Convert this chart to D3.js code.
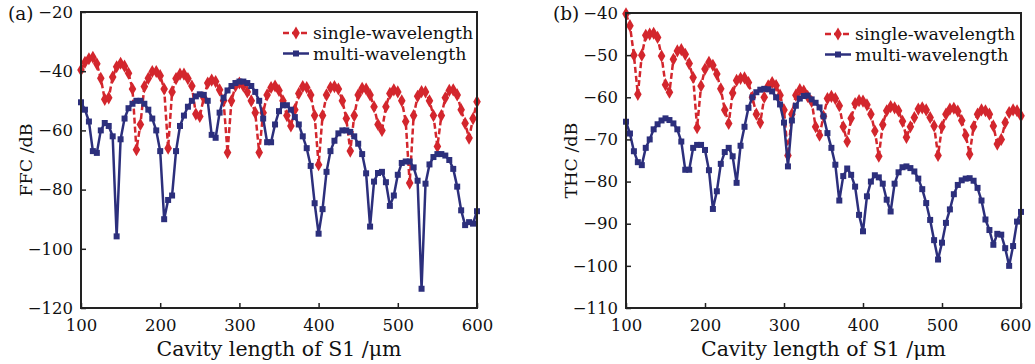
<!DOCTYPE html>
<html>
<head>
<meta charset="utf-8">
<script src="https://cdn.jsdelivr.net/npm/d3@7"></script>
<style>
  body { margin: 0; background: #fff; }
  svg text { font-family: "DejaVu Serif", "Liberation Serif", serif; fill: #111; }
</style>
</head>
<body>
<div id="chart"></div>
<script>
// cavity length of S1 (um), sampled every 5 um
const cavityLength = [
  100, 105, 110, 115, 120, 125, 130, 135, 140, 145, 150, 155, 160, 165, 170, 175, 180, 185, 190, 195,
  200, 205, 210, 215, 220, 225, 230, 235, 240, 245, 250, 255, 260, 265, 270, 275, 280, 285, 290, 295,
  300, 305, 310, 315, 320, 325, 330, 335, 340, 345, 350, 355, 360, 365, 370, 375, 380, 385, 390, 395,
  400, 405, 410, 415, 420, 425, 430, 435, 440, 445, 450, 455, 460, 465, 470, 475, 480, 485, 490, 495,
  500, 505, 510, 515, 520, 525, 530, 535, 540, 545, 550, 555, 560, 565, 570, 575, 580, 585, 590, 595,
  600
];

// (a) FFC /dB
const ffcSingle = [
  -39.6, -37, -35.8, -35.3, -37.5, -42.4, -49.5, -49, -42, -38.5,
  -37.3, -38.3, -40.7, -46, -66.5, -58, -45.2, -42.4, -40.1, -40.1,
  -41.5, -46, -66, -47, -42.5, -41, -41, -42.5, -45, -54.5,
  -55.3, -49, -44, -43, -43.5, -46.3, -50, -67.5, -50, -45,
  -44, -45, -47, -50, -54, -67.5, -54, -48, -45.5, -45,
  -46.5, -50, -55, -58.5, -53, -47.5, -45.2, -45.5, -48, -55,
  -71.6, -55, -48, -45.5, -45.2, -46, -50, -56, -67, -55,
  -48, -45.8, -46, -48, -52, -58, -60, -52, -47.5, -46.3,
  -47, -50, -57, -77.8, -55, -48.5, -46.9, -47, -50, -55,
  -65.4, -55, -49, -46.5, -46.3, -48, -53, -57.6, -62.6, -56,
  -50.3
];
const ffcMulti = [
  -50.5, -53, -57, -67, -67.6, -60, -57.5, -58.5, -62, -95.8,
  -63, -56, -52.5, -51, -50, -50, -51, -53, -56, -60,
  -67, -90, -83.5, -82, -67, -58.5, -55, -52, -50, -48.5,
  -47.8, -48, -50, -61.5, -62.5, -54, -49, -46.5, -45, -44,
  -43.5, -43.5, -44, -45, -47, -50, -56, -64, -64, -58,
  -53.5, -51.5, -51.5, -53, -55.5, -58, -62, -66, -72, -84.6,
  -94.9, -86.6, -74, -67, -63.5, -61, -60, -60, -60.5, -62,
  -64.5, -68, -74.5, -92.5, -77.3, -74.4, -74, -77.5, -85.5, -82,
  -75, -71, -70.5, -70.5, -72.5, -77, -113.5, -78, -71.5, -69,
  -68, -68, -68.5, -70, -73, -79, -87, -92, -91, -91.5,
  -87.3
];

// (b) THC /dB
const thcSingle = [
  -40.2, -43, -50, -59.3, -50, -45.3, -45, -44.8, -45.8, -50.2,
  -57, -58.8, -51, -49, -48.7, -49.8, -52, -55.3, -67.2, -57.3,
  -53.3, -51.7, -52.4, -54.5, -58, -63, -66.2, -59, -56, -55.5,
  -55.4, -56.5, -60, -64, -66, -60, -57.3, -56.5, -57.2, -59.5,
  -63, -73.8, -64, -59.5, -58.2, -58.5, -59.8, -61, -67, -69,
  -64.5, -60.3, -59.8, -60.3, -62, -67, -70.5, -65, -61.5, -60.8,
  -60.9, -61.8, -64, -68, -74, -66.5, -63.2, -62.2, -62.5, -63.2,
  -65.7, -69.5, -67, -64.8, -62.8, -62.5, -63, -64.8, -66.8, -73.8,
  -67, -64, -62.8, -62.6, -63.3, -65.5, -69, -73.5, -67, -64,
  -63, -63.2, -64, -66.8, -71.1, -70, -66, -63.6, -63, -63.2,
  -64.4
];
const thcMulti = [
  -65.8, -68.6, -72.8, -75.4, -76.1, -72, -70, -67.6, -66.4, -65.5,
  -65, -65.4, -66.2, -67.6, -70.5, -77.2, -77.2, -72, -71.3, -71.3,
  -72.5, -77.3, -86.5, -82.3, -75.8, -73, -72, -74, -80.3, -71.5,
  -67, -62.5, -60, -58.8, -58.2, -58, -58.1, -58.6, -60, -61.7,
  -66, -76.4, -65.5, -62, -60.3, -59.7, -59.6, -60.5, -61.3, -62.4,
  -64.5, -68.5, -72, -76, -84.5, -78.7, -76.9, -78.4, -81.2, -87.9,
  -91.8, -83.5, -80, -78.5, -79, -80.5, -84.3, -87.1, -80.5, -77.8,
  -76.6, -76.4, -76.8, -77.6, -79.3, -81.8, -85.1, -89.1, -93.9, -98.5,
  -94.5, -89.8, -86.6, -83, -80.8, -79.7, -79.3, -79.2, -79.8, -81.5,
  -84.5, -89, -91.5, -95, -92.4, -92.6, -95.8, -100, -95.3, -89.5,
  -87.2
];

const xTicks = [100, 200, 300, 400, 500, 600];
const ffcTicks = [-120, -100, -80, -60, -40, -20];
const thcTicks = [-110, -100, -90, -80, -70, -60, -50, -40];
const seriesNames = ["single-wavelength", "multi-wavelength"];

const RED = "#d3262d";
const NAVY = "#2c2f7c";
const FONT = "'DejaVu Serif', 'Liberation Serif', serif";

const svg = d3.select("#chart").append("svg")
  .attr("width", 1035)
  .attr("height", 364);

function fmt(v) {
  return v < 0 ? "\u2212" + Math.abs(v) : String(v);
}

function drawPanel(p) {
  const x = d3.scaleLinear().domain([100, 600]).range([p.left, p.right]);
  const y = d3.scaleLinear().domain(p.yDomain).range([p.bottom, p.top]);
  const g = svg.append("g");

  // series: red dashed with diamonds, navy solid with squares
  const series = [
    {vals: p.single, color: RED, dash: "6,3", sym: d3.symbolDiamond, size: 50},
    {vals: p.multi, color: NAVY, dash: null, sym: d3.symbolSquare, size: 36}
  ];
  const line = d3.line()
    .x((d, i) => x(cavityLength[i]))
    .y(d => y(d));

  series.forEach(s => {
    g.append("path")
      .datum(s.vals)
      .attr("fill", "none")
      .attr("stroke", s.color)
      .attr("stroke-width", 2.5)
      .attr("stroke-dasharray", s.dash)
      .attr("stroke-linejoin", "round")
      .attr("d", line);
    g.selectAll(null)
      .data(s.vals)
      .join("path")
      .attr("transform", (d, i) => "translate(" + x(cavityLength[i]) + "," + y(d) + ")")
      .attr("d", d3.symbol().type(s.sym).size(s.size))
      .attr("fill", s.color);
  });

  // frame
  g.append("rect")
    .attr("x", p.left).attr("y", p.top)
    .attr("width", p.right - p.left).attr("height", p.bottom - p.top)
    .attr("fill", "none").attr("stroke", "#222").attr("stroke-width", 2);

  // axes with inward ticks
  const xAxis = d3.axisBottom(x).tickValues(xTicks).tickSize(-5).tickPadding(11).tickFormat(fmt);
  const yAxis = d3.axisLeft(y).tickValues(p.yTicks).tickSize(-5).tickPadding(8).tickFormat(fmt);
  const gx = g.append("g").attr("transform", "translate(0," + p.bottom + ")").call(xAxis);
  const gy = g.append("g").attr("transform", "translate(" + p.left + ",0)").call(yAxis);
  [gx, gy].forEach(a => {
    a.select(".domain").remove();
    a.selectAll(".tick line").attr("stroke", "#222").attr("stroke-width", 1.5);
    a.selectAll(".tick text").attr("font-size", 16.5).attr("fill", "#111")
      .style("font-family", FONT);
  });
  // last x label kept inside the page, as in the original figure
  if (p.lastLabelEnd) {
    gx.selectAll(".tick text").filter(d => d === 600)
      .attr("text-anchor", "end")
      .attr("x", p.lastLabelEnd - p.right);
  }

  g.append("text")
    .attr("x", (p.left + p.right) / 2)
    .attr("y", 356)
    .attr("text-anchor", "middle")
    .attr("font-size", 20.5)
    .text("Cavity length of S1 /\u03bcm");

  g.append("text")
    .attr("transform", "translate(" + (p.left - 49) + "," + ((p.top + p.bottom) / 2) + ") rotate(-90)")
    .attr("text-anchor", "middle")
    .attr("font-size", 17.5)
    .text(p.yTitle);

  g.append("text")
    .attr("x", p.left - 73)
    .attr("y", 20)
    .attr("font-size", 18.5)
    .text(p.tag);

  // legend
  series.forEach((s, k) => {
    const ly = p.top + 21 + k * 20.5;
    const lx = p.legendX;
    g.append("line")
      .attr("x1", lx).attr("x2", lx + 26)
      .attr("y1", ly).attr("y2", ly)
      .attr("stroke", s.color).attr("stroke-width", 2.5)
      .attr("stroke-dasharray", s.dash);
    g.append("path")
      .attr("transform", "translate(" + (lx + 13) + "," + ly + ")")
      .attr("d", d3.symbol().type(s.sym).size(s.size))
      .attr("fill", s.color);
    g.append("text")
      .attr("x", lx + 30)
      .attr("y", ly + 6)
      .attr("font-size", 17.4)
      .text(seriesNames[k]);
  });
}

drawPanel({
  left: 81, right: 477, top: 12, bottom: 308,
  yDomain: [-120, -20], yTicks: ffcTicks,
  single: ffcSingle, multi: ffcMulti,
  yTitle: "FFC /dB", tag: "(a)", legendX: 283
});

drawPanel({
  left: 626, right: 1021, top: 13, bottom: 308,
  yDomain: [-110, -40], yTicks: thcTicks,
  single: thcSingle, multi: thcMulti,
  yTitle: "THC /dB", tag: "(b)", legendX: 825, lastLabelEnd: 1031
});
</script>
</body>
</html>
